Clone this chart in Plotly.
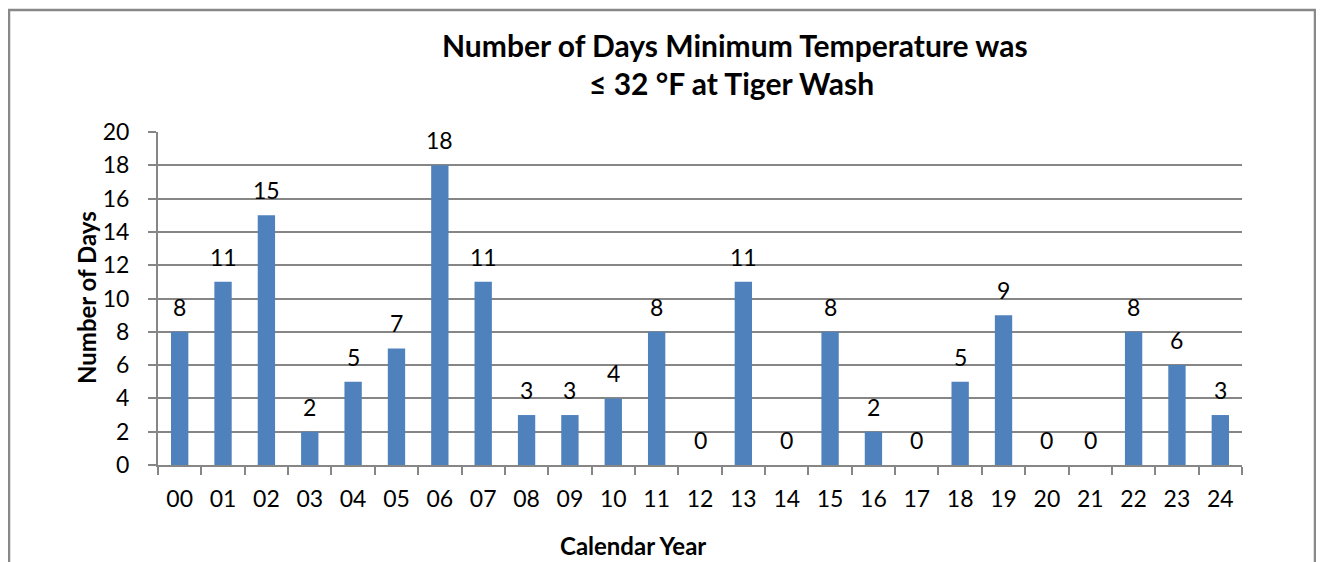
import plotly.graph_objects as go

years = ["00","01","02","03","04","05","06","07","08","09","10","11","12","13","14","15","16","17","18","19","20","21","22","23","24"]
days = [8,11,15,2,5,7,18,11,3,3,4,8,0,11,0,8,2,0,5,9,0,0,8,6,3]

FONT = "Lato"
GRID = "#868686"

# page offset (browser body margin) is 8px; plot area target on screen: x 158..1242, y 132..465
OFF = 8
PX0, PX1, PY0, PY1 = 158 - OFF, 1242 - OFF, 132 - OFF, 465 - OFF
W, H = 1324, 562
PW, PH = PX1 - PX0, PY1 - PY0

def px(sx):
    return (sx - OFF - PX0) / PW

def py(sy):
    return (PY1 - (sy - OFF)) / PH

fig = go.Figure()
fig.add_trace(go.Bar(x=years, y=days, marker=dict(color="#4F81BD", line=dict(width=0)),
                     width=0.4, hoverinfo="x+y"))

for yr, d in zip(years, days):
    fig.add_annotation(x=yr, y=d, text=str(d), showarrow=False, yanchor="middle",
                       yshift=25, font=dict(family=FONT, size=23, color="black"))

fig.add_annotation(xref="paper", yref="paper", x=px(735), y=py(45), text="<b>Number of Days Minimum Temperature was</b>",
                   showarrow=False, font=dict(family=FONT, size=30, color="black"), xanchor="center", yanchor="middle")
fig.add_annotation(xref="paper", yref="paper", x=px(731), y=py(83), text="<b>≤ 32 °F at Tiger Wash</b>",
                   showarrow=False, font=dict(family=FONT, size=30, color="black"), xanchor="center", yanchor="middle")
fig.add_annotation(xref="paper", yref="paper", x=px(633), y=py(545), text="<b>Calendar Year</b>",
                   showarrow=False, font=dict(family=FONT, size=24, color="black"), xanchor="center", yanchor="middle")
fig.add_annotation(xref="paper", yref="paper", x=px(86), y=py(298), text="<b>Number of Days</b>",
                   showarrow=False, textangle=-90, font=dict(family=FONT, size=24, color="black"), xanchor="center", yanchor="middle")

fig.add_shape(type="rect", xref="paper", yref="paper", x0=px(9), x1=px(1315),
              y0=py(600), y1=py(10), line=dict(color="#888888", width=2.5), layer="below")

fig.update_layout(
    width=W, height=H,
    margin=dict(l=PX0, r=W - PX1, t=PY0, b=H - PY1),
    paper_bgcolor="white", plot_bgcolor="white",
    showlegend=False,
    bargap=0.6,
    font=dict(family=FONT, size=23, color="black"),
    xaxis=dict(type="category", showgrid=False, showline=True, linecolor=GRID, linewidth=2,
               ticks="outside", tickson="boundaries", ticklen=8, tickwidth=2, tickcolor=GRID,
               ticklabelstandoff=12, tickfont=dict(family=FONT, size=23, color="black")),
    yaxis=dict(range=[0, 20], dtick=2, showgrid=True, gridcolor=GRID, gridwidth=2,
               showline=True, linecolor=GRID, linewidth=2, zeroline=False,
               ticks="outside", ticklen=8, tickwidth=2, tickcolor=GRID,
               ticklabelstandoff=14, tickfont=dict(family=FONT, size=23, color="black")),
)

fig.write_html("out.html")
